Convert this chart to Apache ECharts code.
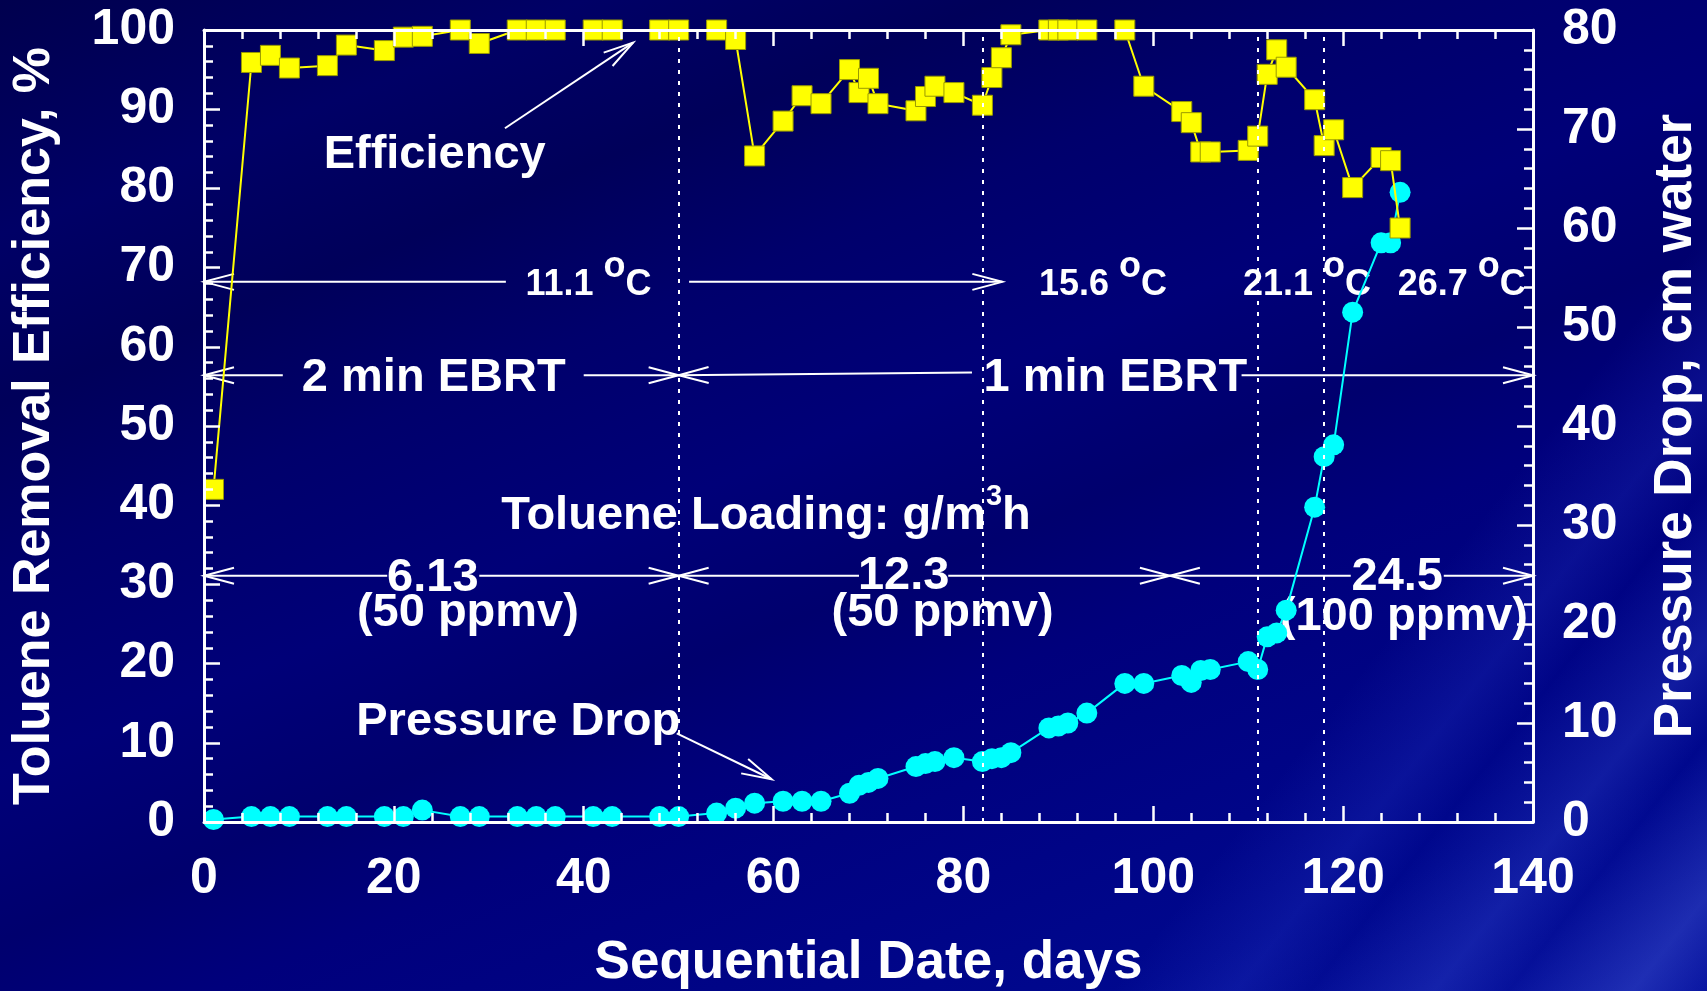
<!DOCTYPE html>
<html>
<head>
<meta charset="utf-8">
<title>Toluene Removal Efficiency and Pressure Drop</title>
<script src="https://cdn.jsdelivr.net/npm/echarts@6/dist/echarts.min.js"></script>
<style>
  html, body { margin: 0; padding: 0; width: 1707px; height: 991px; overflow: hidden; }
  #chart {
    width: 1707px; height: 991px;
    background:
      linear-gradient(128deg, rgba(0,0,0,0) 76%, rgba(70,100,255,0.14) 81%, rgba(0,0,0,0) 84%, rgba(90,120,255,0.18) 89%, rgba(0,0,0,0) 92%, rgba(110,140,255,0.22) 97%, rgba(0,0,0,0) 100%),
      linear-gradient(158deg, #00004e 0%, #000066 14%, #00005a 24%, #00006c 34%, #000078 46%, #00006e 56%, #00007c 64%, #000486 76%, #00088e 86%, #0a16a2 100%);
  }
</style>
</head>
<body>
<div id="chart"></div>
<script>
// Sequential date of each measurement (days)
const days = [1, 5, 7, 9, 13, 15, 19, 21, 23, 27, 29, 33, 35, 37, 41, 43, 48, 50, 54, 56,
              58, 61, 63, 65, 68, 69, 70, 71, 75, 76, 77, 79, 82, 83, 84, 85, 89, 90, 91, 93,
              97, 99, 103, 104, 105, 106, 110, 111, 112, 113, 114, 117, 118, 119, 121, 124, 125, 126];

// Toluene removal efficiency, %
const efficiency = [42.0, 95.9, 96.8, 95.2, 95.5, 98.1, 97.4, 99.1, 99.2, 100, 98.3, 100, 100, 100, 100, 100, 100, 100, 100, 98.8,
                    84.1, 88.5, 91.7, 90.7, 95.0, 92.1, 93.9, 90.7, 89.8, 91.6, 92.9, 92.1, 90.5, 94.0, 96.5, 99.4, 100, 100, 100, 100,
                    100, 92.9, 89.7, 88.3, 84.6, 84.6, 84.8, 86.6, 94.4, 97.5, 95.3, 91.2, 85.4, 87.4, 80.1, 83.9, 83.5, 75.0];

// Pressure drop across the bed, cm water
const pressureDrop = [0.25, 0.55, 0.55, 0.55, 0.55, 0.55, 0.55, 0.55, 1.2, 0.55, 0.55, 0.55, 0.55, 0.55, 0.55, 0.55, 0.55, 0.55, 0.9, 1.4,
                      1.9, 2.1, 2.1, 2.1, 2.9, 3.7, 4.0, 4.4, 5.6, 5.9, 6.1, 6.5, 6.1, 6.4, 6.5, 7.0, 9.5, 9.7, 10.0, 11.0,
                      14.0, 14.0, 14.8, 14.1, 15.3, 15.4, 16.2, 15.4, 18.7, 19.1, 21.4, 31.8, 36.9, 38.1, 51.5, 58.5, 58.5, 63.6];

// Axis ranges and tick steps
const dayAxis = { min: 0, max: 140, step: 20 };
const effAxis = { min: 0, max: 100, step: 10 };
const pdAxis  = { min: 0, max: 80,  step: 10 };

// Days on which operating conditions changed
const phaseBoundaries = [50, 82, 111, 118];

// Operating condition labels
const temperatures = ['11.1', '15.6', '21.1', '26.7'];
const ebrtLabels = ['2 min EBRT', '1 min EBRT'];
const loadingRates = ['6.13', '12.3', '24.5'];
const inletConcs = ['(50 ppmv)', '(50 ppmv)', '(100 ppmv)'];

const FONT = '"Liberation Sans", Arial, sans-serif';
const WHITE = '#ffffff';

const chart = echarts.init(document.getElementById('chart'), null, { renderer: 'canvas' });

function valueAxis(range, position, showLabel, margin) {
  return {
    type: 'value',
    position: position,
    min: range.min,
    max: range.max,
    interval: range.step,
    z: 10,
    axisLine: { show: true, onZero: false, lineStyle: { color: WHITE, width: 3 } },
    axisTick: { show: true, inside: true, length: 16, lineStyle: { color: WHITE, width: 2.5 } },
    minorTick: { show: true, splitNumber: 5, length: 9, lineStyle: { color: WHITE, width: 2.5 } },
    splitLine: { show: false },
    minorSplitLine: { show: false },
    axisLabel: {
      show: showLabel, color: WHITE, fontSize: 50, fontWeight: 'bold', fontFamily: FONT, margin: margin
    }
  };
}

chart.setOption({
  animation: false,
  backgroundColor: 'transparent',
  grid: { left: 204, right: 174, top: 30, bottom: 169, containLabel: false },
  xAxis: [
    valueAxis(dayAxis, 'bottom', true, 32),
    valueAxis(dayAxis, 'top', false, 8)
  ],
  yAxis: [
    valueAxis(effAxis, 'left', true, 29),
    valueAxis(pdAxis, 'right', true, 29)
  ],
  series: [
    {
      name: 'Pressure Drop',
      type: 'line',
      xAxisIndex: 0,
      yAxisIndex: 1,
      z: 3,
      data: days.map((d, i) => [d, pressureDrop[i]]),
      symbol: 'circle',
      symbolSize: 21,
      itemStyle: { color: '#00ffff' },
      lineStyle: { color: '#00ffff', width: 2 },
      emphasis: { disabled: true },
      markLine: {
        silent: true,
        symbol: 'none',
        animation: false,
        label: { show: false },
        emphasis: { disabled: true },
        lineStyle: { color: WHITE, type: [4, 7], width: 2 },
        data: phaseBoundaries.map(x => ({ xAxis: x }))
      }
    },
    {
      name: 'Efficiency',
      type: 'line',
      xAxisIndex: 0,
      yAxisIndex: 0,
      z: 4,
      data: days.map((d, i) => [d, efficiency[i]]),
      symbol: 'rect',
      symbolSize: 20,
      itemStyle: { color: '#ffff00', borderColor: '#9a9a00', borderWidth: 1 },
      lineStyle: { color: '#ffff00', width: 2 },
      emphasis: { disabled: true }
    }
  ]
});

// ---- annotations, placed in data space (days, efficiency %) ----
const toPx = (x, y) => chart.convertToPixel({ xAxisIndex: 0, yAxisIndex: 0 }, [x, y]);
const measure = document.createElement('canvas').getContext('2d');
function textWidth(str, size) {
  measure.font = 'bold ' + size + 'px ' + FONT;
  return measure.measureText(str).width;
}

// glyph centres sit a little below the em-box middle
const TEXT_DROP = 4;
const elements = [];

function addText(str, px, py, size, opts) {
  opts = opts || {};
  elements.push({
    type: 'text', x: px, y: py, z: 1, rotation: opts.rotation || 0,
    style: {
      text: str, fill: WHITE, fontSize: size, fontWeight: 'bold', fontFamily: FONT,
      align: opts.align || 'center', verticalAlign: 'middle'
    }
  });
}

// text made of pieces, some raised (superscripts), centred on (cx, cy)
function addPieces(pieces, cx, cy) {
  const total = pieces.reduce((s, p) => s + textWidth(p.t, p.size), 0);
  let x = cx - total / 2;
  pieces.forEach(p => {
    addText(p.t, x, cy + (p.dy || 0), p.size, { align: 'left' });
    x += textWidth(p.t, p.size);
  });
}

function addArrow(from, to) {
  const a = toPx(from[0], from[1]);
  const b = toPx(to[0], to[1]);
  const dx = b[0] - a[0], dy = b[1] - a[1];
  const len = Math.hypot(dx, dy);
  const ux = dx / len, uy = dy / len;
  const L = 30, W = 8;
  elements.push({
    type: 'line', z: 1,
    shape: { x1: a[0], y1: a[1], x2: b[0], y2: b[1] },
    style: { stroke: WHITE, lineWidth: 2 }
  });
  elements.push({
    type: 'polyline', z: 1,
    shape: { points: [
      [b[0] - L * ux - W * uy, b[1] - L * uy + W * ux],
      [b[0], b[1]],
      [b[0] - L * ux + W * uy, b[1] - L * uy - W * ux]
    ] },
    style: { stroke: WHITE, lineWidth: 2, fill: null }
  });
}

// temperature row
const tempY = 68.2;
addArrow([31.8, tempY], [0, tempY]);
addArrow([51.1, tempY], [84.1, tempY]);
[40.5, 94.7, 116.2, 132.5].forEach((x, i) => {
  const p = toPx(x, 68.06);
  addPieces([
    { t: temperatures[i] + ' ', size: 36 },
    { t: 'o', size: 36, dy: -18 },
    { t: 'C', size: 36 }
  ], p[0], p[1] + 2);
});

// empty bed residence time row
const ebrtY = 56.4;
addArrow([8.3, ebrtY], [0, ebrtY]);
addArrow([40.0, ebrtY], [50, ebrtY]);
addArrow([80.9, 56.75], [50, ebrtY]);
addArrow([109.3, ebrtY], [140, ebrtY]);
[[24.2, ebrtLabels[0]], [96.0, ebrtLabels[1]]].forEach(([x, s]) => {
  const p = toPx(x, 56.6);
  addText(s, p[0], p[1] + TEXT_DROP, 47);
});

// loading row
(function () {
  const p = toPx(59.2, 38.95);
  addPieces([
    { t: 'Toluene Loading: g/m', size: 47 },
    { t: '3', size: 29, dy: -19.5 },
    { t: 'h', size: 47 }
  ], p[0], p[1] + TEXT_DROP - 1);
})();
const loadY = 31.1;
addArrow([19.3, loadY], [0, loadY]);
addArrow([29.0, loadY], [50, loadY]);
addArrow([69.0, loadY], [50, loadY]);
addArrow([78.4, loadY], [101.75, loadY]);
addArrow([120.8, loadY], [101.75, loadY]);
addArrow([130.6, loadY], [140, loadY]);
[[24.1, 31.2], [73.7, 31.4], [125.7, 31.3]].forEach(([x, y], i) => {
  const p = toPx(x, y);
  addText(loadingRates[i], p[0], p[1] + TEXT_DROP - 1, 47);
});
[[27.8, 26.8], [77.8, 26.8], [126.4, 26.3]].forEach(([x, y], i) => {
  const p = toPx(x, y);
  addText(inletConcs[i], p[0], p[1] + TEXT_DROP - 1, 47);
});

// series call-outs
(function () {
  let p = toPx(24.3, 84.7);
  addText('Efficiency', p[0], p[1] + TEXT_DROP, 47);
  addArrow([31.7, 87.6], [45.2, 98.4]);
  p = toPx(33.1, 13.07);
  addText('Pressure Drop', p[0], p[1] + TEXT_DROP, 47);
  addArrow([49.8, 11.2], [59.8, 5.4]);
})();

// axis titles
(function () {
  const left = toPx(0, 50), right = toPx(140, 50), bottom = toPx(70, 0);
  addText('Toluene Removal Efficiency, %', left[0] - 169, left[1], 52, { rotation: Math.PI / 2 });
  addText('Pressure Drop, cm water', right[0] + 143, right[1], 53, { rotation: Math.PI / 2 });
  addText('Sequential Date, days', bottom[0], bottom[1] + 141, 53);
})();

chart.setOption({ graphic: { elements: elements } });
</script>
</body>
</html>
